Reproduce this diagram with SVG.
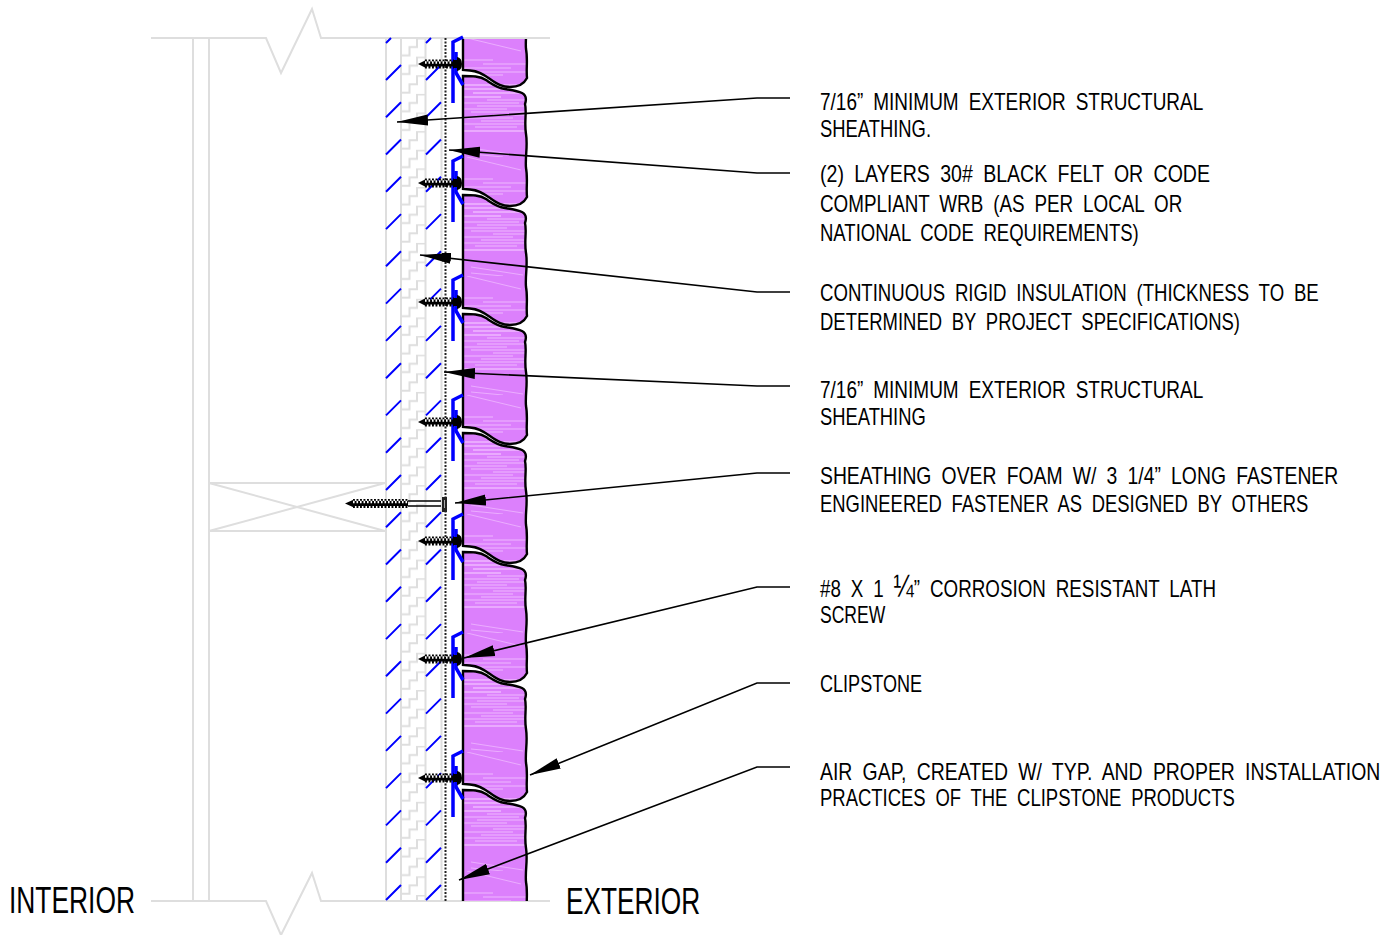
<svg xmlns="http://www.w3.org/2000/svg" width="1398" height="935" viewBox="0 0 1398 935">
<style>
.g{fill:none;stroke:#dedede;stroke-width:2}
.h{fill:none;stroke:#0000ff;stroke-width:2}
.c{fill:none;stroke:#0000ff;stroke-width:3.5}
.l{fill:none;stroke:#000;stroke-width:1.6}
.t{font-family:"Liberation Sans",Arial,sans-serif;font-size:24px;fill:#000;word-spacing:6px}
.b{font-family:"Liberation Sans",Arial,sans-serif;font-size:37px;fill:#000}
.th{fill:none;stroke:#000;stroke-width:9;stroke-dasharray:1.9 1.6}
.co{fill:none;stroke:#000;stroke-width:5}
.wh{fill:none;stroke:#fff;stroke-width:2.4;stroke-dasharray:1.6 1.9}
</style>
<defs>
<marker id="a" markerUnits="userSpaceOnUse" markerWidth="32" markerHeight="12" viewBox="0 0 32 12" refX="31" refY="6" orient="auto"><path d="M0,0.5 L31,6 L0,11.5 Z" fill="#000"/></marker>
<pattern id="stair" patternUnits="userSpaceOnUse" x="402" y="38" width="24" height="18.63">
<path d="M0,17.5 H7.5 V9 H15 V0.500 H24" fill="none" stroke="#dedede" stroke-width="2"/>
</pattern>
<pattern id="rock" patternUnits="userSpaceOnUse" x="463" y="38" width="66" height="119">
<rect width="66" height="119" fill="#dc80fc"/>
<g stroke="#efb8ff" fill="none">
<path stroke-width="1" d="M0,22 H30 M20,26 H66 M0,30 H48 M6,34 H66 M0,37 H40"/>
<path stroke-width="1.500" d="M0,47 H66 M0,51 H52 M10,55 H66 M0,59 H38"/>
<path stroke-width="1" d="M24,62 H66 M0,65 H56 M14,68 H66 M0,71 H44 M8,74 H62 M30,77 H66 M0,80 H50 M18,83 H66 M0,86 H66 M12,89 H54"/>
<path stroke-width="1.500" d="M0,93 H66"/>
<path stroke-width="0.800" d="M8,110 L60,118 M4,0 L58,13 M8,116 L40,119"/>
</g>
</pattern>
<clipPath id="wall"><rect x="440" y="38" width="100" height="863"/></clipPath>
<path id="stone" d="M463,76 C472,76 480,76 486,80 C492,84 497,88 505,89 C512,90 518,91 522,93 C526,95 527,98 525,104 C527,112 524,122 526,134 C528,146 525,156 526,168 C528,178 526,188 527,197 C524,203 518,206 510,206 C502,206 497,203 490,198 C483,193 478,190 470,189.500 L463,189 Z" fill="url(#rock)" stroke="#000" stroke-width="2.4"/>
<g id="clip">
<path class="c" d="M463,37 L453,42 V103"/>
<path class="c" d="M456,52 V73 L463,85"/>
<path d="M418,64 L426,60 V68 Z" fill="#000"/>
<path class="th" d="M425,64 H454"/>
<path class="co" d="M425,64 H454"/>
<path class="wh" d="M425,62.500 H453"/>
<path d="M454,60 H457 V57 Q462,58 462,64 Q462,70 457,71 V68 H454 Z" fill="#000"/>
</g>
</defs>

<g id="framing">
<path class="g" d="M151,38 H266 L281,73 L312,9 L321,38 H550"/>
<path class="g" d="M151,901 H266 L281,935 L312,873 L321,901 H550"/>
<path class="g" d="M193,38 V901 M209,38 V901"/>
<path class="g" d="M209,483 H385 M209,531 H385 M209,483 L385,531 M209,531 L385,483"/>
</g>

<g id="sheathing-layers">
<rect x="402" y="38" width="24" height="863" fill="url(#stair)"/>
<path class="g" d="M386,38 V901 M401,38 V901 M425.500,38 V901 M441.500,38 V901"/>
<path class="h" d="M386,43 L391,38 M386,80 L401,65 M386,117.300 L401,102.300 M386,154.500 L401,139.500 M386,191.800 L401,176.800 M386,229.100 L401,214.100 M386,266.300 L401,251.300 M386,303.600 L401,288.600 M386,340.900 L401,325.900 M386,378.200 L401,363.200 M386,415.400 L401,400.400 M386,452.700 L401,437.700 M386,490 L401,475 M386,527.200 L401,512.200 M386,564.500 L401,549.500 M386,601.800 L401,586.800 M386,639.100 L401,624.100 M386,676.300 L401,661.300 M386,713.600 L401,698.600 M386,750.900 L401,735.900 M386,788.100 L401,773.100 M386,825.400 L401,810.400 M386,862.700 L401,847.700 M386,900 L401,885"/>
<path class="h" d="M426,43 L431,38 M426,80 L441,65 M426,117.300 L441,102.300 M426,154.500 L441,139.500 M426,191.800 L441,176.800 M426,229.100 L441,214.100 M426,266.300 L441,251.300 M426,303.600 L441,288.600 M426,340.900 L441,325.900 M426,378.200 L441,363.200 M426,415.400 L441,400.400 M426,452.700 L441,437.700 M426,490 L441,475 M426,527.200 L441,512.200 M426,564.500 L441,549.500 M426,601.800 L441,586.800 M426,639.100 L441,624.100 M426,676.300 L441,661.300 M426,713.600 L441,698.600 M426,750.900 L441,735.900 M426,788.100 L441,773.100 M426,825.400 L441,810.400 M426,862.700 L441,847.700 M426,900 L441,885"/>
<path d="M445.500,38 V901" stroke="#222" stroke-width="2" stroke-dasharray="2 1.500" fill="none"/>
</g>

<g id="clipstone" clip-path="url(#wall)">
<use href="#stone" y="-119"/>
<use href="#stone"/>
<use href="#stone" y="119"/>
<use href="#stone" y="238"/>
<use href="#stone" y="357"/>
<use href="#stone" y="476"/>
<use href="#stone" y="595"/>
<use href="#stone" y="714"/>
</g>
<path class="g" d="M463,38 H550"/>

<g id="lath-screws">
<use href="#clip"/>
<use href="#clip" y="119"/>
<use href="#clip" y="238"/>
<use href="#clip" y="358"/>
<use href="#clip" y="477"/>
<use href="#clip" y="595"/>
<use href="#clip" y="714"/>
</g>

<g id="long-fastener">
<path d="M345,503.500 L354,499.500 V507.500 Z" fill="#000"/>
<path class="th" d="M353,503.500 H408"/>
<path class="co" d="M353,503.500 H408"/>
<path class="wh" d="M353,502 H408"/>
<path d="M408,501 H441 M408,506 H441" stroke="#000" stroke-width="1.600" fill="none"/>
<path d="M442,497 H447 V512 H442 Z" fill="#222"/>
<path d="M444.500,500 V508" stroke="#aaa" stroke-width="1" fill="none"/>
</g>

<g id="connectors">
<path class="l" d="M790,98 H757 L397,122" marker-end="url(#a)"/>
<path class="l" d="M790,173 H757 L449,150" marker-end="url(#a)"/>
<path class="l" d="M790,292 H757 L420,255" marker-end="url(#a)"/>
<path class="l" d="M790,386 H757 L444,372" marker-end="url(#a)"/>
<path class="l" d="M790,473 H757 L455,503" marker-end="url(#a)"/>
<path class="l" d="M790,587 H757 L464,658" marker-end="url(#a)"/>
<path class="l" d="M790,683 H757 L530,775" marker-end="url(#a)"/>
<path class="l" d="M790,767 H757 L459,880" marker-end="url(#a)"/>
</g>
<rect id="insulation-tick" x="442" y="253" width="8.500" height="8.500" fill="#000"/>

<g id="label-1" transform="translate(820 0) scale(.75 1)">
<text class="t" y="110" textLength="511" lengthAdjust="spacingAndGlyphs">7/16” MINIMUM EXTERIOR STRUCTURAL</text>
<text class="t" y="137" textLength="148" lengthAdjust="spacingAndGlyphs">SHEATHING.</text>
</g>
<g id="label-2" transform="translate(820 0) scale(.75 1)">
<text class="t" y="182" textLength="520" lengthAdjust="spacingAndGlyphs">(2) LAYERS 30# BLACK FELT OR CODE</text>
<text class="t" y="212" textLength="483" lengthAdjust="spacingAndGlyphs">COMPLIANT WRB (AS PER LOCAL OR</text>
<text class="t" y="241" textLength="425" lengthAdjust="spacingAndGlyphs">NATIONAL CODE REQUIREMENTS)</text>
</g>
<g id="label-3" transform="translate(820 0) scale(.75 1)">
<text class="t" y="301" textLength="665" lengthAdjust="spacingAndGlyphs">CONTINUOUS RIGID INSULATION (THICKNESS TO BE</text>
<text class="t" y="330" textLength="560" lengthAdjust="spacingAndGlyphs">DETERMINED BY PROJECT SPECIFICATIONS)</text>
</g>
<g id="label-4" transform="translate(820 0) scale(.75 1)">
<text class="t" y="398" textLength="511" lengthAdjust="spacingAndGlyphs">7/16” MINIMUM EXTERIOR STRUCTURAL</text>
<text class="t" y="425" textLength="141" lengthAdjust="spacingAndGlyphs">SHEATHING</text>
</g>
<g id="label-5" transform="translate(820 0) scale(.75 1)">
<text class="t" y="484" textLength="691" lengthAdjust="spacingAndGlyphs">SHEATHING OVER FOAM W/ 3 1/4” LONG FASTENER</text>
<text class="t" y="512" textLength="651" lengthAdjust="spacingAndGlyphs">ENGINEERED FASTENER AS DESIGNED BY OTHERS</text>
</g>
<g id="label-6" transform="translate(820 0) scale(.75 1)">
<text class="t" y="597" textLength="528" lengthAdjust="spacingAndGlyphs">#8 X 1 <tspan font-size="31">¼</tspan>” CORROSION RESISTANT LATH</text>
<text class="t" y="623" textLength="87" lengthAdjust="spacingAndGlyphs">SCREW</text>
</g>
<g id="label-7" transform="translate(820 0) scale(.75 1)">
<text class="t" y="692" textLength="136" lengthAdjust="spacingAndGlyphs">CLIPSTONE</text>
</g>
<g id="label-8" transform="translate(820 0) scale(.75 1)">
<text class="t" y="780" textLength="747" lengthAdjust="spacingAndGlyphs">AIR GAP, CREATED W/ TYP. AND PROPER INSTALLATION</text>
<text class="t" y="806" textLength="553" lengthAdjust="spacingAndGlyphs">PRACTICES OF THE CLIPSTONE PRODUCTS</text>
</g>
<g id="side-labels">
<text class="b" transform="translate(9 913) scale(.75 1)" textLength="168" lengthAdjust="spacingAndGlyphs">INTERIOR</text>
<text class="b" transform="translate(566 914) scale(.75 1)" textLength="179" lengthAdjust="spacingAndGlyphs">EXTERIOR</text>
</g>
</svg>
